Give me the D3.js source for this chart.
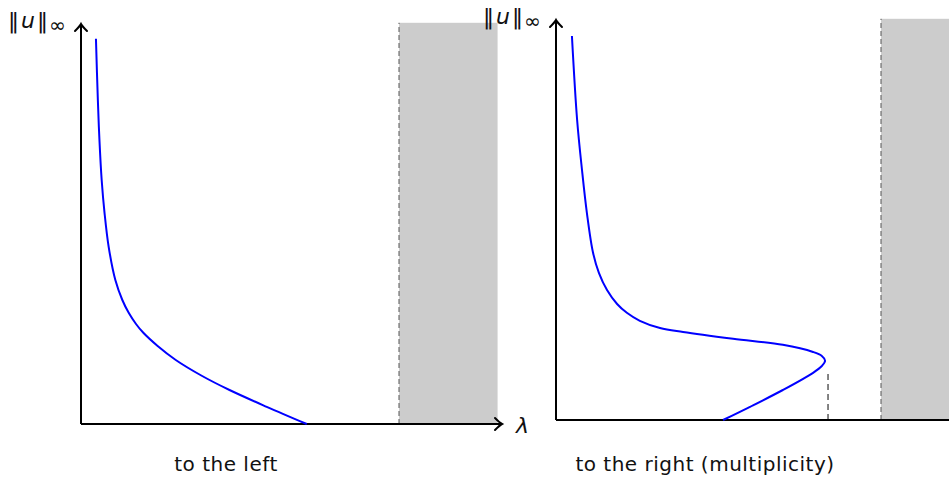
<!DOCTYPE html>
<html>
<head>
<meta charset="utf-8">
<script src="https://cdn.jsdelivr.net/npm/d3@7"></script>
<style>
  body { margin: 0; background: #fff; }
  svg { display: block; }
  text { font-family: "DejaVu Sans", sans-serif; fill: #111; }
</style>
</head>
<body>
<svg id="canvas" width="949" height="478"></svg>
<script>
// lambda, ||u|| (lambda = 1 is where the gray band starts, ||u|| = 1 is the top of the axis)
let leftLambda = [0.047, 0.053, 0.058, 0.065, 0.074, 0.087, 0.108, 0.130, 0.150, 0.173, 0.196, 0.241, 0.298, 0.381, 0.467, 0.584, 0.710]
let leftNorm   = [0.963, 0.810, 0.710, 0.610, 0.528, 0.443, 0.360, 0.310, 0.278, 0.250, 0.228, 0.195, 0.160, 0.120, 0.085, 0.043, 0.0]

let rightLambda = [0.049, 0.065, 0.080, 0.095, 0.114, 0.132, 0.157, 0.188, 0.218, 0.258, 0.320, 0.391, 0.545, 0.698, 0.791, 0.818, 0.828, 0.818, 0.791, 0.698, 0.597, 0.514]
let rightNorm   = [0.960, 0.750, 0.625, 0.518, 0.418, 0.368, 0.325, 0.290, 0.268, 0.248, 0.230, 0.220, 0.203, 0.188, 0.170, 0.160, 0.148, 0.135, 0.118, 0.075, 0.033, 0.0]

let titles = ['to the left', 'to the right (multiplicity)']
let turningLambda = 0.837
let turningNorm = 0.118

let canvas = d3.select('#canvas')

let panels = [
  {ox: 81, oy: 424, unitX: 318, unitY: 400, axisEnd: 500, lambda: leftLambda, norm: leftNorm, title: titles[0], titleX: 226, showLambda: true, dash: false},
  {ox: 556, oy: 420, unitX: 325, unitY: 400, axisEnd: 975, lambda: rightLambda, norm: rightNorm, title: titles[1], titleX: 705, showLambda: false, dash: true}
]

let arrowHead = (g, x, y, angle) => {
  g.append('path')
   .attr('d', 'M -7,-6 Q -2,-1 0,0 Q -2,1 -7,6')
   .attr('transform', `translate(${x},${y}) rotate(${angle})`)
   .attr('fill', 'none')
   .attr('stroke', '#000')
   .attr('stroke-width', 2)
   .attr('stroke-linecap', 'round')
}

let drawPanel = (p) => {
  let xScale = d3.scaleLinear().domain([0, 1]).range([p.ox, p.ox + p.unitX])
  let yScale = d3.scaleLinear().domain([0, 1]).range([p.oy, p.oy - p.unitY])
  let g = canvas.append('g')

  // gray band
  g.append('rect')
   .attr('x', xScale(1))
   .attr('y', yScale(1.003))
   .attr('width', xScale(1.31) - xScale(1))
   .attr('height', yScale(0) - yScale(1.003))
   .attr('fill', '#cccccc')
  g.append('line')
   .attr('x1', xScale(1)).attr('x2', xScale(1))
   .attr('y1', yScale(0)).attr('y2', yScale(1.003))
   .attr('stroke', '#555').attr('stroke-width', 1)
   .attr('stroke-dasharray', '5,3')

  if (p.dash) {
    g.append('line')
     .attr('x1', xScale(turningLambda)).attr('x2', xScale(turningLambda))
     .attr('y1', yScale(0)).attr('y2', yScale(turningNorm))
     .attr('stroke', '#333').attr('stroke-width', 1.2)
     .attr('stroke-dasharray', '6,4')
  }

  // axes
  g.append('line')
   .attr('x1', p.ox).attr('y1', p.oy)
   .attr('x2', p.axisEnd).attr('y2', p.oy)
   .attr('stroke', '#000').attr('stroke-width', 2)
  g.append('line')
   .attr('x1', p.ox).attr('y1', p.oy)
   .attr('x2', p.ox).attr('y2', yScale(1) + 1)
   .attr('stroke', '#000').attr('stroke-width', 2)
  arrowHead(g, p.ox, yScale(1), -90)
  arrowHead(g, p.axisEnd + 2, p.oy, 0)

  // curve
  let pts = p.lambda.map((l, i) => [l, p.norm[i]])
  let line = d3.line()
    .x(d => xScale(d[0]))
    .y(d => yScale(d[1]))
    .curve(d3.curveCatmullRom.alpha(0.5))
  g.append('path')
   .attr('d', line(pts))
   .attr('fill', 'none')
   .attr('stroke', '#0000ff')
   .attr('stroke-width', 2)

  // y label
  let lab = g.append('text')
   .attr('x', p.ox - 73)
   .attr('y', yScale(1) + 4)
   .style('font-size', '22px')
  lab.append('tspan').text('\u2016')
  lab.append('tspan').text('u').attr('dx', 2).style('font-style', 'italic')
  lab.append('tspan').text('\u2016').attr('dx', 2)
  lab.append('tspan').text('\u221e').attr('dx', 1).attr('dy', 4).style('font-size', '20px')

  if (p.showLambda) {
    g.append('text')
     .attr('x', p.axisEnd + 16)
     .attr('y', p.oy + 9)
     .style('font-size', '22px')
     .style('font-style', 'italic')
     .text('\u03bb')
  }

  g.append('text')
   .attr('x', p.titleX)
   .attr('y', 471)
   .attr('text-anchor', 'middle')
   .style('font-size', '20px')
   .style('letter-spacing', '0.5px')
   .text(p.title)
}

panels.forEach(drawPanel)
</script>
</body>
</html>
